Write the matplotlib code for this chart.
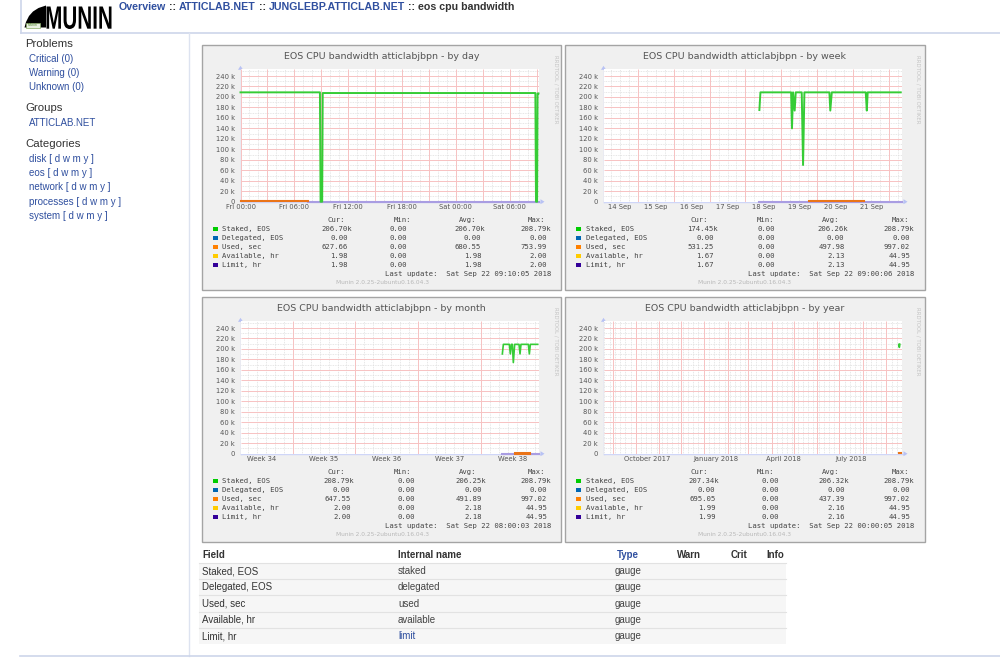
import numpy as np
import matplotlib
matplotlib.use('Agg')
import matplotlib.pyplot as plt
from matplotlib.patches import Rectangle, Polygon, PathPatch
from matplotlib.textpath import TextPath
from matplotlib.font_manager import FontProperties
from matplotlib.transforms import Affine2D

# ---------------- data ----------------
breadcrumb = ['Overview', 'ATTICLAB.NET', 'JUNGLEBP.ATTICLAB.NET', 'eos cpu bandwidth']
problems = ['Critical (0)', 'Warning (0)', 'Unknown (0)']
groups = ['ATTICLAB.NET']
categories = ['disk', 'eos', 'network', 'processes', 'system']

field_labels = ['Staked, EOS', 'Delegated, EOS', 'Used, sec', 'Available, hr', 'Limit, hr']
internal_names = ['staked', 'delegated', 'used', 'available', 'limit']
field_types = ['gauge', 'gauge', 'gauge', 'gauge', 'gauge']
field_colors = ['#00cc00', '#0066b3', '#ff8000', '#ffcc00', '#330099']
table_headers = ['Field', 'Internal name', 'Type', 'Warn', 'Crit', 'Info']

y_ticks = [0, 20000, 40000, 60000, 80000, 100000, 120000, 140000, 160000, 180000, 200000, 220000, 240000]
y_tick_labels = ['0', '20 k', '40 k', '60 k', '80 k', '100 k', '120 k', '140 k', '160 k', '180 k', '200 k', '220 k', '240 k']
legend_headers = ['Cur:', 'Min:', 'Avg:', 'Max:']
munin_version = 'Munin 2.0.25-2ubuntu0.16.04.3'

# day graph (hours since Fri 00:00)
day_title = 'EOS CPU bandwidth atticlabjbpn - by day'
day_xlim = (0.0, 33.2)
day_tick_pos = [0, 6, 12, 18, 24, 30]
day_tick_labels = ['Fri 00:00', 'Fri 06:00', 'Fri 12:00', 'Fri 18:00', 'Sat 00:00', 'Sat 06:00']
day_staked_t = [0.0, 8.85, 8.92, 9.10, 9.16, 32.85, 32.92, 33.05, 33.10, 33.2]
day_staked_v = [208790, 208790, 0, 0, 207500, 207500, 0, 0, 206700, 206700]
day_used_t = [0.0, 7.56]
day_used_v = [700, 700]
day_limit_t = [7.56, 33.2]
day_limit_v = [2, 2]
day_legend = [['206.70k', '0.00', '206.70k', '208.79k'],
              ['0.00', '0.00', '0.00', '0.00'],
              ['627.66', '0.00', '680.55', '753.99'],
              ['1.98', '0.00', '1.98', '2.00'],
              ['1.98', '0.00', '1.98', '2.00']]
day_last_update = 'Sat Sep 22 09:10:05 2018'

# week graph (hours since 14 Sep 00:00)
week_title = 'EOS CPU bandwidth atticlabjbpn - by week'
week_xlim = (1.1, 200.3)
week_tick_pos = [12, 36, 60, 84, 108, 132, 156, 180]
week_tick_labels = ['14 Sep', '15 Sep', '16 Sep', '17 Sep', '18 Sep', '19 Sep', '20 Sep', '21 Sep']
week_staked_t = [105.3, 106.0, 126.5, 127.1, 127.8, 128.9, 129.6, 133.6, 134.5, 135.4,
                 152.1, 152.7, 153.7, 176.4, 177.1, 177.7, 199.8]
week_staked_v = [175000, 208790, 208790, 140000, 208790, 174000, 208790, 208790, 70000, 208790,
                 208790, 174000, 208790, 208790, 174000, 208790, 208790]
week_used_t = [138.7, 152.0, np.nan, 153.5, 175.3]
week_used_v = [900, 900, np.nan, 900, 900]
week_limit_t = [105.3, 200.3]
week_limit_v = [2, 2]
week_legend = [['174.45k', '0.00', '206.26k', '208.79k'],
               ['0.00', '0.00', '0.00', '0.00'],
               ['531.25', '0.00', '497.98', '997.02'],
               ['1.67', '0.00', '2.13', '44.95'],
               ['1.67', '0.00', '2.13', '44.95']]
week_last_update = 'Sat Sep 22 09:00:06 2018'

# month graph (hours since Sun 19 Aug 00:00)
month_title = 'EOS CPU bandwidth atticlabjbpn - by month'
month_xlim = (28.2, 826.1)
month_tick_pos = [84, 252, 420, 588, 756]
month_tick_labels = ['Week 34', 'Week 35', 'Week 36', 'Week 37', 'Week 38']
month_staked_t = [729.3, 732.0, 748.0, 750.7, 753.4, 756.0, 758.7, 762.3, 773.9, 776.6,
                  779.2, 798.9, 801.6, 804.3, 823.9]
month_staked_v = [190500, 208790, 208790, 190500, 208790, 208790, 174000, 208790, 208790, 190500,
                  208790, 208790, 190500, 208790, 208790]
month_used_t = [762.0, 801.0]
month_used_v = [1500, 1500]
month_limit_t = [729.3, 826.1]
month_limit_v = [2, 2]
month_legend = [['208.79k', '0.00', '206.25k', '208.79k'],
                ['0.00', '0.00', '0.00', '0.00'],
                ['647.55', '0.00', '491.89', '997.02'],
                ['2.00', '0.00', '2.18', '44.95'],
                ['2.00', '0.00', '2.18', '44.95']]
month_last_update = 'Sat Sep 22 08:00:03 2018'

# year graph (days since 1 Sep 2017)
year_title = 'EOS CPU bandwidth atticlabjbpn - by year'
year_xlim = (-13.2, 386.2)
year_tick_pos = [45.5, 137.5, 227.5, 318.5]
year_tick_labels = ['October 2017', 'January 2018', 'April 2018', 'July 2018']
year_month_starts = [0, 30, 61, 91, 122, 153, 181, 212, 242, 273, 303, 334, 365]
year_staked_t = [382.6, 383.3, 384.0]
year_staked_v = [208790, 203000, 208790]
year_used_t = [383.0, 386.0]
year_used_v = [700, 700]
year_legend = [['207.34k', '0.00', '206.32k', '208.79k'],
               ['0.00', '0.00', '0.00', '0.00'],
               ['695.05', '0.00', '437.39', '997.02'],
               ['1.99', '0.00', '2.16', '44.95'],
               ['1.99', '0.00', '2.16', '44.95']]
year_last_update = 'Sat Sep 22 00:00:05 2018'

# ---------------- figure ----------------
W, H = 1000, 660
fig = plt.figure(figsize=(10, 6.6), dpi=100)
fig.patch.set_facecolor('white')
bg = fig.add_axes([0, 0, 1, 1])
bg.set_xlim(0, W)
bg.set_ylim(H, 0)
bg.axis('off')
R = fig.canvas.get_renderer()

LINK = '#2f4f9f'
DARK = '#333333'
SANS = 'Liberation Sans'
GFONT = '#555555'


def tw(s, **kw):
    t = bg.text(0, 0, s, **kw)
    w = t.get_window_extent(R).width
    t.remove()
    return w


# ---- page frame ----
bg.plot([21, 21], [0, 33], color='#cdd5ea', lw=1.2)
bg.plot([21, 1000], [33, 33], color='#cdd5ea', lw=1.2)
bg.plot([189, 189], [33, 656], color='#dde3f0', lw=1.0)
bg.plot([20, 1000], [656, 656], color='#cdd5ea', lw=1.2)

# ---- logo ----
bg.add_patch(Polygon([(24.5, 27.5), (26, 22), (29, 16), (33, 11.5), (38.5, 8), (46, 5.5), (46, 27.5)],
                     closed=True, fc='black', ec='none'))
bg.add_patch(Rectangle((25.5, 22.5), 14, 5.5, fc='#e8f0e0', ec='#88aa66', lw=0.5))
bg.text(32.5, 25.3, 'Munin', fontsize=2.6, color='#558833', ha='center', va='center', family=SANS)
tp = TextPath((0, 0), 'MUNIN', size=10, prop=FontProperties(family=SANS, weight='bold'))
ext = tp.get_extents()
mx0, mx1, my0, my1 = 46.5, 111.5, 6.5, 29.0
sx = (mx1 - mx0) / ext.width
sy = (my1 - my0) / ext.height
tr = Affine2D().translate(-ext.x0, -ext.y0).scale(sx, -sy).translate(mx0, my1)
bg.add_patch(PathPatch(tr.transform_path(tp), fc='black', ec='none', transform=bg.transData))

# ---- breadcrumb ----
pieces = [(breadcrumb[0], LINK), ('::', DARK), (breadcrumb[1], LINK), ('::', DARK),
          (breadcrumb[2], LINK), ('::', DARK), (breadcrumb[3], DARK)]
base = 8.0
kw = dict(family=SANS, weight='bold', fontsize=base)
total = sum(tw(p, **kw) for p, _ in pieces) + 6 * (tw('x x', **kw) - tw('xx', **kw))
fs = base * 394.0 / total
kw = dict(family=SANS, weight='bold', fontsize=fs)
sp = tw('x x', **kw) - tw('xx', **kw)
x = 118.5
for p, c in pieces:
    bg.text(x, 7.0, p, color=c, ha='left', va='center', **kw)
    x += tw(p, **kw) + sp

# ---- sidebar ----
def head(y, s):
    bg.text(25, y, s, color=DARK, fontsize=8.2, family=SANS, ha='left', va='center')


def link(y, s):
    bg.text(28.8, y, s, color=LINK, fontsize=7.0, family=SANS, ha='left', va='center')


head(44.3, 'Problems')
for yy, s in zip([59, 72.7, 87.3], problems):
    link(yy, s)
head(108.3, 'Groups')
link(122.7, groups[0])
head(144.3, 'Categories')
for yy, s in zip([159, 173.3, 187.3, 201.7, 215.7], categories):
    link(yy, s + ' [ d w m y ]')


# ---- graph panels ----
def panel(x0, y0, w, title, xlim, minor, major, tpos, tlabels, lines, legend, last, cols):
    h = 245
    bg.add_patch(Rectangle((x0, y0), w, h, fc='#f0f0f0', ec='#a4a4a4', lw=1.0, zorder=1))
    bg.text(x0 + 179.5, y0 + 11.7, title, ha='center', va='center', fontsize=6.8,
            color=GFONT, family='DejaVu Sans', zorder=3)
    left, right = x0 + 38.5, x0 + 336.5
    top, bottom = y0 + 24.3, y0 + 156.7
    ax = fig.add_axes([left / W, 1 - bottom / H, (right - left) / W, (bottom - top) / H])
    ax.set_facecolor('white')
    ax.set_xlim(*xlim)
    ymax = 252800
    ax.set_ylim(0, ymax)
    for s in ax.spines.values():
        s.set_visible(False)
    ymin_lines = np.arange(10000, ymax, 20000)
    ax.vlines(minor, 0, ymax, colors='#d9d9d9', lw=0.5, linestyles=(0, (1.2, 1.2)), zorder=1)
    ax.hlines(ymin_lines, xlim[0], xlim[1], colors='#d9d9d9', lw=0.5, linestyles=(0, (1.2, 1.2)), zorder=1)
    ax.vlines(major, 0, ymax, colors='#f7c2c2', lw=0.7, zorder=2)
    ax.hlines(y_ticks[1:], xlim[0], xlim[1], colors='#f7c2c2', lw=0.7, zorder=2)
    for t, v, c, lw in lines:
        ax.plot(t, v, color=c, lw=lw, clip_on=False, zorder=5)
    ax.set_yticks(y_ticks, y_tick_labels)
    ax.set_xticks(tpos, tlabels)
    ax.tick_params(axis='y', length=0, pad=4.0, labelsize=4.9, labelcolor=GFONT)
    ax.tick_params(axis='x', length=0, pad=2.0, labelsize=4.9, labelcolor=GFONT)
    for lab in ax.get_xticklabels() + ax.get_yticklabels():
        lab.set_family('DejaVu Sans')
    # axes + arrows
    bg.plot([left, left], [bottom, top - 1], color='#cfd6f8', lw=1.0, zorder=4)
    bg.plot([left, right + 3], [bottom, bottom], color='#cfd6f8', lw=1.0, zorder=4)
    bg.add_patch(Polygon([(left - 2.5, top + 0.5), (left + 2.5, top + 0.5), (left, top - 3.5)],
                         closed=True, fc='#b8c2f4', ec='none', zorder=4))
    bg.add_patch(Polygon([(right + 2, bottom - 2.5), (right + 2, bottom + 2.5), (right + 6, bottom)],
                         closed=True, fc='#b8c2f4', ec='none', zorder=4))
    # vertical credit
    bg.text(x0 + 353.5, y0 + 44, 'RRDTOOL / TOBI OETIKER', rotation=270, ha='center', va='center',
            fontsize=3.9, color='#c4c4c4', family='DejaVu Sans', zorder=3)
    # legend
    mono = dict(family='DejaVu Sans Mono', fontsize=5.2, color='#444444', va='center', zorder=3)
    cw = 0.602 * 5.2 * 100 / 72
    for hx, ht in zip([134.5, 200.2, 265.2, 335.0], legend_headers):
        bg.text(x0 + hx, y0 + 175.3, ht, ha='center', **mono)
    for i in range(5):
        ry = y0 + 184.3 + 9 * i
        bg.add_patch(Rectangle((x0 + 11.4, ry - 2.3), 4.4, 4.4, fc=field_colors[i], ec='none', zorder=3))
        bg.text(x0 + 20.5, ry, field_labels[i], ha='left', **mono)
        for j in range(4):
            s = legend[i][j]
            xr = x0 + cols[j] - (0 if s.endswith('k') else cw - 0.5)
            bg.text(xr, ry, s, ha='right', **mono)
    bg.text(x0 + 349, y0 + 229.3, 'Last update:  ' + last, ha='right', **mono)
    bg.text(x0 + 180, y0 + 238.0, munin_version, ha='center', va='center', fontsize=4.2,
            color='#b8b8b8', family='DejaVu Sans', zorder=3)
    return ax


GREEN, ORANGE, PURPLE = '#36cc36', '#ea7418', '#a99de2'

panel(202, 45, 359, day_title, day_xlim, np.arange(0, 34, 1), np.arange(0, 34, 3),
      day_tick_pos, day_tick_labels,
      [(day_limit_t, day_limit_v, PURPLE, 1.5), (day_used_t, day_used_v, ORANGE, 1.5),
       (day_staked_t, day_staked_v, GREEN, 1.4)],
      day_legend, day_last_update, [149.7, 209.0, 283.0, 349.0])

panel(565, 45, 360, week_title, week_xlim, np.arange(0, 201, 6), np.arange(0, 201, 24),
      week_tick_pos, week_tick_labels,
      [(week_limit_t, week_limit_v, PURPLE, 1.5), (week_used_t, week_used_v, ORANGE, 1.5),
       (week_staked_t, week_staked_v, GREEN, 1.4)],
      week_legend, week_last_update, [152.7, 213.6, 283.3, 349.0])

panel(202, 297, 359, month_title, month_xlim, np.arange(0, 827, 24), np.arange(0, 827, 168),
      month_tick_pos, month_tick_labels,
      [(month_limit_t, month_limit_v, PURPLE, 1.5), (month_used_t, month_used_v, ORANGE, 2.2),
       (month_staked_t, month_staked_v, GREEN, 1.2)],
      month_legend, month_last_update, [152.3, 217.3, 283.7, 349.0])

panel(565, 297, 360, year_title, year_xlim, np.arange(-19, 387, 7), year_month_starts,
      year_tick_pos, year_tick_labels,
      [(year_used_t, year_used_v, ORANGE, 1.5), (year_staked_t, year_staked_v, GREEN, 1.2)],
      year_legend, year_last_update, [154.3, 217.6, 284.0, 349.0])

# ---- field table ----
col_x = [202, 398, 628, 677, 731, 766]
for j, (hx, ht) in enumerate(zip(col_x, table_headers)):
    bg.text(hx, 555, ht, ha='center' if j == 2 else 'left', va='center', fontsize=7.0,
            weight='bold', family=SANS, color=LINK if j == 2 else DARK)
row_y = [571, 587.3, 603.6, 619.9, 636.2]
for i in range(5):
    top = row_y[i] - 8.2
    bg.add_patch(Rectangle((199, top), 587, 16.3, fc='#f6f6f6', ec='none'))
    bg.plot([199, 786], [top, top], color='#e2e2e2', lw=0.8)
    bg.text(202, row_y[i], field_labels[i], ha='left', va='center', fontsize=7.0, family=SANS, color=DARK)
    bg.text(398, row_y[i], internal_names[i], ha='left', va='center', fontsize=7.0, family=SANS,
            color=LINK if internal_names[i] == 'limit' else '#444444')
    bg.text(628, row_y[i], field_types[i], ha='center', va='center', fontsize=7.0, family=SANS, color='#444444')

fig.savefig('out.png', dpi=100, facecolor='white')
